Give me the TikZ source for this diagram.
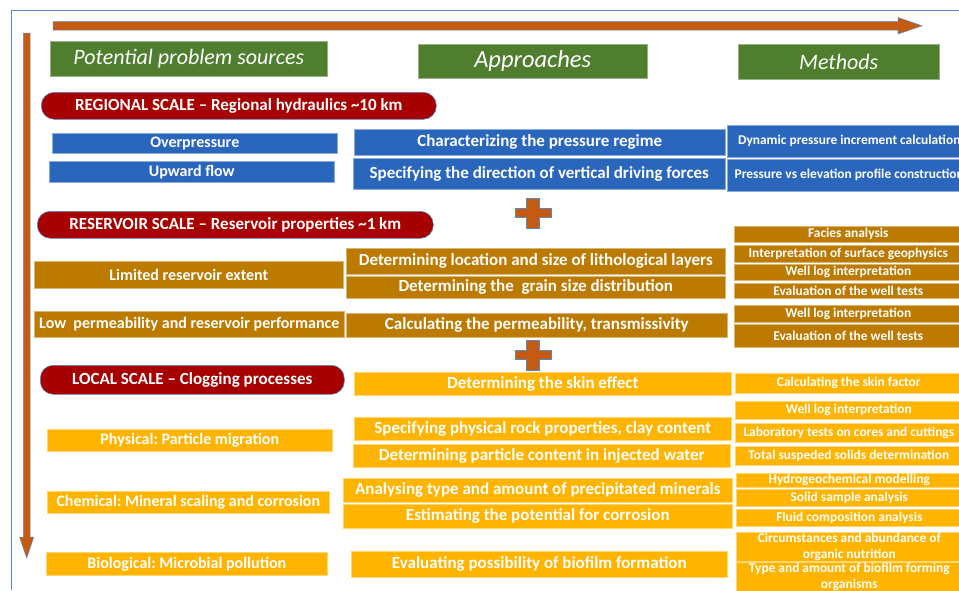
\documentclass[tikz,border=0pt]{standalone}
\usepackage{fontspec}
\setmainfont{Carlito}
\usepackage{tikz}
\usetikzlibrary{positioning}
\frenchspacing
\definecolor{framecol}{HTML}{5B87C5}
\definecolor{arrorange}{HTML}{C55A11}
\definecolor{hdrgreen}{HTML}{4F7E2E}
\definecolor{scalered}{HTML}{A60000}
\definecolor{boxblue}{HTML}{2B66BD}
\definecolor{boxbrown}{HTML}{BC7A00}
\definecolor{boxgold}{HTML}{FFB400}
\tikzset{%
	frameline/.style = {draw=framecol, line width=0.8pt},
	bigarrow/.style  = {fill=arrorange, draw=framecol, line width=0.5pt},
	header/.style    = {fill=hdrgreen, draw=hdrgreen!60!white, line width=0.5pt, text=white, inner sep=0pt, anchor=north west, font=\fontsize{22}{25}\selectfont\itshape},
	scalebar/.style  = {fill=scalered, draw=framecol, line width=0.6pt, rounded corners=13pt, text=white, inner sep=0pt, anchor=north west, font=\fontsize{17}{20}\selectfont\bfseries},
	cell/.style      = {text=white, inner sep=0pt, anchor=north west, line width=0.6pt, align=center},
	bluebox/.style   = {cell, fill=boxblue, draw=boxblue!55!white},
	brownbox/.style  = {cell, fill=boxbrown, draw=boxbrown!55!white},
	goldbox/.style   = {cell, fill=boxgold, draw=boxgold!55!white},
	srcfont/.style   = {font=\fontsize{16}{19}\selectfont\bfseries}, % sources
	appfont/.style   = {font=\fontsize{17}{20}\selectfont\bfseries}, % approaches
	metfont/.style   = {font=\fontsize{13.4}{16}\selectfont\bfseries}, % methods
	plussign/.pic    = {\path[bigarrow] (-6.5,-15) -- (6.5,-15) -- (6.5,-4.5) -- (18,-4.5) -- (18,4.5) -- (6.5,4.5) -- (6.5,15) -- (-6.5,15) -- (-6.5,4.5) -- (-18,4.5) -- (-18,-4.5) -- (-6.5,-4.5) -- cycle;},
}

\begin{document}
\begin{tikzpicture}[x=1pt,y=-1pt]
	\useasboundingbox (0,0) rectangle (959,590);
	\clip (0,0) rectangle (959,590);
	
	% frame and axis arrows
	\draw[frameline] (11,590) -- (11,10) -- (959,10);
	\path[bigarrow] (53,21.7) -- (898,21.7) -- (898,17.5) -- (922,25.8) -- (898,34) -- (898,30) -- (53,30) -- cycle;
	\path[bigarrow] (23.3,33) -- (30,33) -- (30,537) -- (33.8,537) -- (26.7,558) -- (19.6,537) -- (23.3,537) -- cycle;
	
	% column headers
	\node[header, minimum width=277pt, minimum height=35pt] (hdrSrc) at (50,41) {Potential problem sources};
	\node[header, minimum width=229pt, minimum height=34pt, font=\fontsize{24.5}{27}\selectfont\itshape] (hdrApp) at (418,44) {Approaches};
	\node[header, minimum width=201pt, minimum height=35pt] (hdrMet) at (738,44) {Methods};
	
	% regional scale
	\node[scalebar, minimum width=395pt, minimum height=27pt] (scRegional) at (41,92) {REGIONAL SCALE -- Regional hydraulics \textasciitilde10 km};
	\node[bluebox, srcfont, minimum width=285pt, minimum height=20pt] (srcOver) at (52,133) {Overpressure};
	\node[bluebox, srcfont, minimum width=285pt, minimum height=21pt] (srcUpward) at (49,161) {Upward flow};
	\node[bluebox, appfont, minimum width=371pt, minimum height=26pt] (appPressure) at (354,129) {Characterizing the pressure regime};
	\node[bluebox, appfont, minimum width=372pt, minimum height=31pt] (appDirection) at (353,158) {Specifying the direction of vertical driving forces};
	\node[bluebox, metfont, minimum width=244pt, minimum height=32pt] (metDynamic) at (727,125) {Dynamic pressure increment calculation};
	\node[bluebox, metfont, minimum width=244pt, minimum height=32pt] (metProfile) at (727,159) {Pressure vs elevation profile construction};
	\pic at (533,213) {plussign};
	
	% reservoir scale
	\node[scalebar, minimum width=396pt, minimum height=27pt] (scReservoir) at (37,211) {RESERVOIR SCALE -- Reservoir properties \textasciitilde1 km};
	\node[brownbox, srcfont, minimum width=309pt, minimum height=27pt] (srcExtent) at (34,261) {Limited reservoir extent};
	\node[brownbox, srcfont, minimum width=310pt, minimum height=26pt] (srcPerm) at (34,311) {Low~ permeability and reservoir performance};
	\node[brownbox, appfont, minimum width=379pt, minimum height=26pt] (appLayers) at (346,248) {Determining location and size of lithological layers};
	\node[brownbox, appfont, minimum width=379pt, minimum height=22pt] (appGrain) at (346,276) {Determining the~ grain size distribution};
	\node[brownbox, appfont, minimum width=381pt, minimum height=24pt] (appTransm) at (346,313) {Calculating the permeability, transmissivity};
	\node[brownbox, metfont, minimum width=228pt, minimum height=16pt] (metFacies) at (734,226) {Facies analysis};
	\node[brownbox, metfont, minimum width=228pt, minimum height=17pt] (metSurface) at (734,245) {Interpretation of surface geophysics};
	\node[brownbox, metfont, minimum width=228pt, minimum height=16pt] (metWellLogA) at (734,264) {Well log interpretation};
	\node[brownbox, metfont, minimum width=228pt, minimum height=15pt] (metWellTestA) at (734,283) {Evaluation of the well tests};
	\node[brownbox, metfont, minimum width=228pt, minimum height=17pt] (metWellLogB) at (734,305) {Well log interpretation};
	\node[brownbox, metfont, minimum width=228pt, minimum height=23pt] (metWellTestB) at (734,324) {Evaluation of the well tests};
	\pic at (533,355) {plussign};
	
	% local scale
	\node[scalebar, minimum width=304pt, minimum height=29pt] (scLocal) at (40,365) {LOCAL SCALE -- Clogging processes};
	\node[goldbox, appfont, minimum width=377pt, minimum height=23pt] (appSkin) at (354,372) {Determining the skin effect};
	\node[goldbox, metfont, minimum width=227pt, minimum height=20pt] (metSkin) at (735,373) {Calculating the skin factor};
	\node[goldbox, srcfont, minimum width=285pt, minimum height=22pt] (srcPhysical) at (47,429) {Physical: Particle migration};
	\node[goldbox, appfont, minimum width=377pt, minimum height=23pt] (appRock) at (354,417) {Specifying physical rock properties, clay content};
	\node[goldbox, appfont, minimum width=377pt, minimum height=23pt] (appParticle) at (353,444) {Determining particle content in injected water};
	\node[goldbox, metfont, minimum width=227pt, minimum height=18pt] (metWellLogC) at (735,401) {Well log interpretation};
	\node[goldbox, metfont, minimum width=227pt, minimum height=19pt] (metLab) at (735,423) {Laboratory tests on cores and cuttings};
	\node[goldbox, metfont, minimum width=227pt, minimum height=19pt] (metTSS) at (735,446) {Total suspeded solids determination};
	\node[goldbox, srcfont, minimum width=282pt, minimum height=22pt] (srcChemical) at (47,491) {Chemical: Mineral scaling and corrosion};
	\node[goldbox, appfont, minimum width=389pt, minimum height=24pt] (appMinerals) at (343,478) {Analysing type and amount of precipitated minerals};
	\node[goldbox, appfont, minimum width=389pt, minimum height=24pt] (appCorrosion) at (343,504) {Estimating the potential for corrosion};
	\node[goldbox, metfont, minimum width=226pt, minimum height=14pt] (metHydro) at (736,473) {Hydrogeochemical modelling};
	\node[goldbox, metfont, minimum width=226pt, minimum height=17pt] (metSolid) at (736,489) {Solid sample analysis};
	\node[goldbox, metfont, minimum width=226pt, minimum height=17pt] (metFluid) at (736,509) {Fluid composition analysis};
	\node[goldbox, srcfont, minimum width=281pt, minimum height=23pt] (srcBio) at (46,552) {Biological: Microbial pollution};
	\node[goldbox, appfont, minimum width=376pt, minimum height=26pt] (appBiofilm) at (351,551) {Evaluating possibility of biofilm formation};
	\node[goldbox, metfont, minimum width=226pt, minimum height=29pt] (metNutrition) at (736,532) {Circumstances and abundance of\\organic nutrition};
	\node[goldbox, metfont, minimum width=226pt, minimum height=30pt] (metOrganisms) at (736,562) {Type and amount of biofilm forming\\organisms};
\end{tikzpicture}
\end{document}
